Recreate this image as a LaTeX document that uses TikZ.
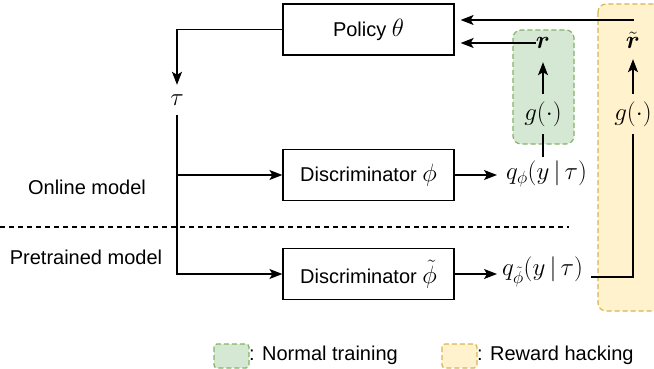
\RequirePackage{fix-cm}
\documentclass[tikz,border=0pt]{standalone}
\usepackage{amsmath}
\usepackage{fontspec}
\setmainfont{Liberation Sans}
\usetikzlibrary{arrows.meta}
\definecolor{gfill}{HTML}{D5E8D4}
\definecolor{gdraw}{HTML}{82B366}
\definecolor{ofill}{HTML}{FFF2CC}
\definecolor{odraw}{HTML}{D6B656}
\newcommand\mymath[1]{{\fontsize{25}{30}\selectfont$#1$}}
\tikzset{
  box/.style={draw, line width=1.2pt, minimum width=171pt, minimum height=51pt, inner sep=0pt, font=\fontsize{20}{24}\selectfont},
  lbl/.style={font=\fontsize{20}{24}\selectfont, inner sep=3pt},
  mth/.style={font=\fontsize{25}{30}\selectfont, inner sep=0pt},
  arr/.style={line width=1.2pt, -{Stealth[length=13pt,width=10pt,inset=3pt]}},
  ln/.style={line width=1.2pt},
  gbox/.style={draw=gdraw, fill=gfill, line width=1.2pt, dash pattern=on 5pt off 3pt, rounded corners=8pt},
  obox/.style={draw=odraw, fill=ofill, line width=1.2pt, dash pattern=on 5pt off 3pt, rounded corners=8pt},
}
\begin{document}
\begin{tikzpicture}[x=1pt, y=-1pt]
\useasboundingbox (0,0) rectangle (654,369);
% highlight regions
\begin{scope}
\clip (0,0) rectangle (654,369);
\draw[obox] (598,4) rectangle (680,311);
\end{scope}
\draw[gbox] (513,30) rectangle (574,144);
% boxes
\node[box] (policy) at (368.5,29.5) {Policy \mymath{\theta}};
\node[box] (d1) at (368.5,175) {Discriminator \mymath{\phi}};
\node[box] (d2) at (368.5,274) {Discriminator \mymath{\tilde\phi}};
% math nodes
\node[mth, minimum height=30pt] (tau) at (177,100) {$\tau$};
\node[mth, anchor=west] (q1) at (506,174) {$q_{\phi}(y\,|\,\tau)$};
\node[mth, anchor=west] (q2) at (502,272) {$q_{\tilde\phi}(y\,|\,\tau)$};
\node[mth, minimum height=40pt] (g1) at (543,114) {$g(\cdot)$};
\node[mth, minimum height=38pt] (r1) at (543,43) {$\boldsymbol{r}$};
\node[mth, minimum height=40pt] (g2) at (633,114) {$g(\cdot)$};
\node[mth, minimum height=38pt] (r2) at (633,40) {$\tilde{\boldsymbol{r}}$};
% labels
\node[lbl] (online) at (87,187) {Online model};
\node[lbl] (pre) at (86,257) {Pretrained model};
\draw[line width=1.1pt, dash pattern=on 5pt off 4pt] (0,227) -- (569,227);
% connectors
\draw[arr] (policy.west) -| (tau.north);
\draw[arr] (tau.south) |- (d2.west);
\draw[arr] (tau.south |- d1.west) -- (d1.west);
\draw[arr] (d1.east) -- ([xshift=-9pt]d1.east -| q1.west);
\draw[arr] (d2.east) -- ([xshift=-5pt]d2.east -| q2.west);
\draw[ln] (g1.south |- 0,157) -- (g1.south);
\draw[arr] (g1.north) -- (r1.south);
\draw[arr, shorten >=6pt] (r1.west) -- (r1.west -| policy.east);
\draw[ln] ([xshift=8pt]q2.east |- 0,277) -| (g2.south);
\draw[arr] (g2.north) -- (r2.south);
\coordinate (top) at ([yshift=9.5pt]policy.east);
\draw[arr, shorten >=6pt] (r2.north) |- (top);
% legend
\draw[gbox, rounded corners=3pt] (214,344) rectangle (249,368);
\node[lbl, anchor=west, inner sep=0pt] (leg1) at (249,355) {: Normal training};
\draw[obox, rounded corners=3pt] (442,344) rectangle (477,368);
\node[lbl, anchor=west, inner sep=0pt] (leg2) at (477,355) {: Reward hacking};
\end{tikzpicture}
\end{document}
